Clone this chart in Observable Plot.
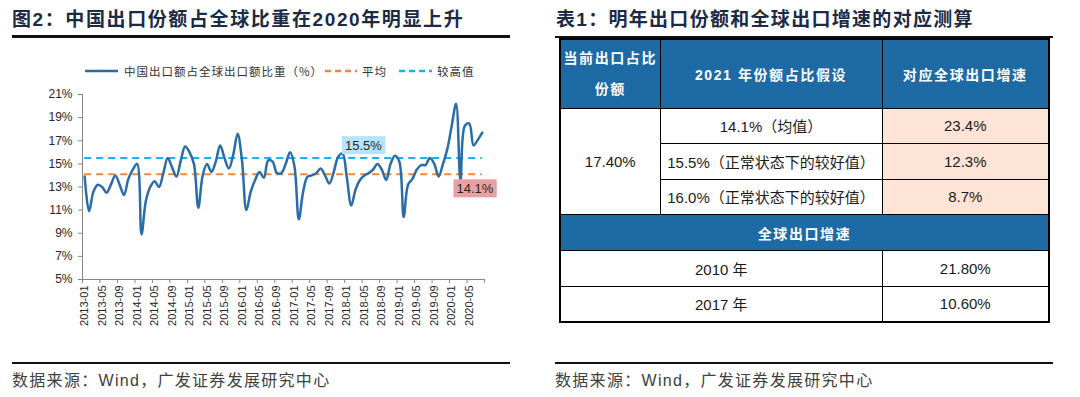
<!DOCTYPE html>
<html><head><meta charset="utf-8">
<script src="https://cdn.jsdelivr.net/npm/d3@7"></script>
<script src="https://cdn.jsdelivr.net/npm/@observablehq/plot@0.6"></script>
<style>
html,body{margin:0;padding:0;background:#fff;}
#root{position:relative;width:1080px;height:397px;overflow:hidden;font-family:"Liberation Sans",Arial,"Noto Sans CJK SC",sans-serif;background:#fff;}
.abs{position:absolute;}
.title{font-family:"Liberation Sans",Arial,"Noto Sans CJK SC",sans-serif;font-weight:bold;font-size:19px;letter-spacing:1.3px;color:#1c2a44;white-space:nowrap;line-height:24px;}
.hr{height:2.5px;background:#111;}
.src{font-size:16px;color:#404040;white-space:nowrap;line-height:20px;letter-spacing:1.3px;}
.leg{font-family:"Noto Sans CJK SC",sans-serif;font-size:11.5px;color:#333;letter-spacing:1px;white-space:nowrap;line-height:14px;}
#tbl{border-collapse:collapse;table-layout:fixed;width:489px;border:2px solid #000;}
#tbl td,#tbl th{border:1.5px solid #000;text-align:center;padding:0;font-size:15px;color:#1a1a1a;font-weight:normal;white-space:nowrap;}
#tbl th{background:#1d6aa5;color:#fff;font-weight:bold;font-size:14px;letter-spacing:1.6px;font-family:"Liberation Sans",Arial,"Noto Sans CJK SC",sans-serif;}
#tbl td.pk{background:#fde4d7;}
</style></head>
<body><div id="root">
  <div id="chart" class="abs" style="left:0;top:0;"></div>
  <div class="title abs" style="left:12px;top:8px;letter-spacing:1.6px;">图2：中国出口份额占全球比重在2020年明显上升</div>
  <div class="hr abs" style="left:12px;top:35px;width:498px;"></div>
  <div class="title abs" style="left:556px;top:8px;">表1：明年出口份额和全球出口增速的对应测算</div>
  <div class="hr abs" style="left:555px;top:35.5px;width:498px;"></div>
  <div id="legend" class="abs" style="left:0;top:63px;width:540px;height:16px;"></div>
  <div id="tblwrap" class="abs" style="left:559px;top:38px;"></div>
  <div class="hr abs" style="left:12px;top:362px;width:498px;height:2px;"></div>
  <div class="hr abs" style="left:555px;top:362px;width:498px;height:2px;"></div>
  <div class="src abs" style="left:12px;top:371px;">数据来源：Wind，广发证券发展研究中心</div>
  <div class="src abs" style="left:555px;top:371px;">数据来源：Wind，广发证券发展研究中心</div>
</div>
<script>
// ---------- data ----------
const years = [2013, 2014, 2015, 2016, 2017, 2018, 2019, 2020];
const monthNums = ["01","02","03","04","05","06","07","08","09","10","11","12"];
const shareValues = [
  13.9, 10.9, 12.6, 13.2, 13.0, 12.5, 13.2, 14.0, 13.2, 12.3, 13.7, 14.5,
  15.0, 8.9, 11.8, 13.0, 13.5, 13.0, 14.2, 15.5, 14.7, 13.9, 15.3, 16.5,
  16.0, 15.0, 11.2, 14.0, 15.0, 14.3, 15.2, 16.6, 15.5, 14.6, 15.8, 17.6,
  15.3, 11.0, 12.6, 13.6, 14.3, 13.8, 15.3, 15.2, 14.2, 14.2, 15.0, 16.0,
  14.8, 10.2, 12.6, 13.9, 14.0, 14.2, 14.6, 14.0, 13.3, 14.3, 15.6, 15.9,
  13.8, 11.4, 12.8, 13.6, 14.0, 14.2, 14.5, 15.0, 14.5, 13.6, 15.0, 15.7,
  15.2, 10.4, 13.2, 13.7, 14.5, 14.9, 14.9, 15.5, 15.0, 13.9, 15.0, 16.3,
  18.3, 20.2, 13.5, 18.3, 18.5, 16.6, 17.1, 17.7
];
const months = years.flatMap(y => monthNums.map(m => `${y}-${m}`)).slice(0, shareValues.length);
const tickLabels = ["2013-01","2013-05","2013-09","2014-01","2014-05","2014-09","2015-01","2015-05","2015-09",
  "2016-01","2016-05","2016-09","2017-01","2017-05","2017-09","2018-01","2018-05","2018-09",
  "2019-01","2019-05","2019-09","2020-01","2020-05"];
const yTicks = [5, 7, 9, 11, 13, 15, 17, 19, 21];
const avgShare = 14.1;
const highShare = 15.5;
const seriesNames = ["中国出口额占全球出口额比重（%）", "平均", "较高值"];
const callouts = [
  {label: "15.5%", ref: highShare, at: 64.3, dy: -12.6, bg: "#b4e4f8"},
  {label: "14.1%", ref: avgShare, at: 89.8, dy: 14.4, bg: "#e8a1a2"}
];

// table data
const tableHeaders = [["当前出口占比", "份额"], "2021 年份额占比假设", "对应全球出口增速"];
const currentShare = "17.40%";
const assumptions = ["14.1%（均值）", "15.5%（正常状态下的较好值）", "16.0%（正常状态下的较好值）"];
const impliedGrowth = ["23.4%", "12.3%", "8.7%"];
const subHeader = "全球出口增速";
const histYears = ["2010 年", "2017 年"];
const histGrowth = ["21.80%", "10.60%"];

// ---------- colors ----------
const cLine = "#2a6ca8", cAvg = "#f0883c", cHigh = "#14b4ee";

// ---------- chart ----------
const pts = shareValues.map((v, k) => ({x: k + 0.5, v, month: months[k]}));
const xFirst = pts[0].x, xLast = pts[pts.length - 1].x;
const boundaries = d3.range(0, shareValues.length + 1, 4);

const chart = Plot.plot({
  width: 540, height: 397,
  marginLeft: 82, marginRight: 56, marginTop: 94, marginBottom: 118,
  x: {type: "linear", domain: [0, shareValues.length]},
  y: {domain: [5, 21]},
  style: {fontFamily: "'Liberation Sans', Arial, sans-serif", fontSize: "12px", color: "#262626", background: "transparent", overflow: "visible"},
  marks: [
    Plot.ruleX([0], {stroke: "#868686"}),
    Plot.ruleY([5], {stroke: "#868686"}),
    Plot.axisY({ticks: yTicks, tickFormat: d => d + "%", tickSize: 4, tickPadding: 6, stroke: "#868686", fill: "#262626", label: null, fontSize: 12}),
    Plot.axisX({ticks: boundaries, tickFormat: () => "", tickSize: 4, stroke: "#868686", label: null}),
    Plot.axisX({ticks: tickLabels.map(l => months.indexOf(l) + 0.5), tickFormat: d => months[Math.floor(d)], tickSize: 0, tickPadding: 6, tickRotate: -90, fill: "#262626", fontSize: 11, label: null}),
    Plot.ruleY([avgShare], {x1: xFirst, x2: xLast, stroke: cAvg, strokeWidth: 2, strokeDasharray: "7,5"}),
    Plot.ruleY([highShare], {x1: xFirst, x2: xLast, stroke: cHigh, strokeWidth: 2, strokeDasharray: "7,5"}),
    Plot.line(pts, {x: "x", y: "v", stroke: cLine, strokeWidth: 2.5, curve: "catmull-rom"}),
    ...callouts.map(c => Plot.text([c], {x: "at", y: "ref", text: "label", dy: c.dy, fill: "#262626", fontSize: 13}))
  ]
});
document.getElementById("chart").appendChild(chart);

// backgrounds behind callout labels (found by their text)
const allTexts = Array.from(chart.querySelectorAll("text"));
callouts.forEach(c => {
  const t = allTexts.find(el => el.textContent === c.label);
  if (!t) return;
  const b = t.getBBox();
  const r = document.createElementNS("http://www.w3.org/2000/svg", "rect");
  const padX = 3, padY = 1.5;
  r.setAttribute("x", b.x - padX);
  r.setAttribute("y", b.y - padY);
  r.setAttribute("width", b.width + 2 * padX);
  r.setAttribute("height", b.height + 2 * padY);
  r.setAttribute("fill", c.bg);
  if (t.getAttribute("transform")) r.setAttribute("transform", t.getAttribute("transform"));
  t.parentNode.insertBefore(r, t);
});

// ---------- legend ----------
const legend = document.getElementById("legend");
const legItems = [
  {name: seriesNames[0], color: cLine, dash: null, x0: 85, x1: 118, tx: 124},
  {name: seriesNames[1], color: cAvg, dash: "6,4", x0: 325, x1: 357, tx: 362},
  {name: seriesNames[2], color: cHigh, dash: "6,4", x0: 399, x1: 432, tx: 437}
];
let legSvg = `<svg width="540" height="16" style="position:absolute;left:0;top:0">`;
legItems.forEach(it => {
  legSvg += `<line x1="${it.x0}" x2="${it.x1}" y1="8" y2="8" stroke="${it.color}" stroke-width="2.5" ${it.dash ? `stroke-dasharray="${it.dash}"` : ""}/>`;
});
legSvg += `</svg>`;
legend.innerHTML = legSvg + legItems.map(it => `<div class="leg abs" style="left:${it.tx}px;top:0.5px">${it.name}</div>`).join("");

// ---------- table ----------
const rowH = 35.5;
let html = `<table id="tbl"><colgroup><col style="width:100px"><col style="width:222px"><col style="width:167px"></colgroup>`;
html += `<tr style="height:69px"><th style="line-height:31px">${tableHeaders[0].join("<br>")}</th><th>${tableHeaders[1]}</th><th>${tableHeaders[2]}</th></tr>`;
assumptions.forEach((a, k) => {
  html += `<tr style="height:${rowH}px">` + (k === 0 ? `<td rowspan="${assumptions.length}">${currentShare}</td>` : "") +
    `<td>${a}</td><td class="pk">${impliedGrowth[k]}</td></tr>`;
});
html += `<tr style="height:36px"><th colspan="3">${subHeader}</th></tr>`;
histYears.forEach((yv, k) => {
  html += `<tr style="height:${rowH}px"><td colspan="2">${yv}</td><td>${histGrowth[k]}</td></tr>`;
});
html += `</table>`;
document.getElementById("tblwrap").innerHTML = html;
</script>
</body></html>
